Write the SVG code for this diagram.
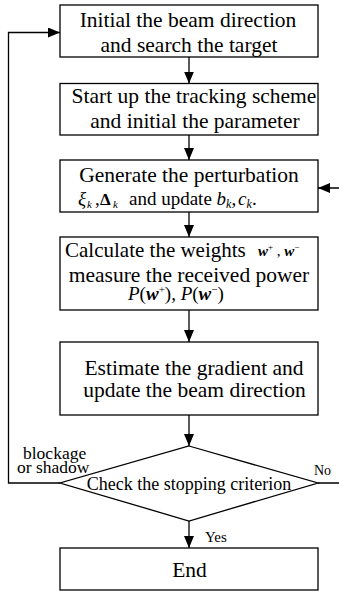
<svg xmlns="http://www.w3.org/2000/svg" width="339" height="592" viewBox="0 0 339 592">
<style>
text{font-family:Liberation Serif,Times New Roman,Times,Tinos,DejaVu Serif,Noto Serif,serif}
.box{fill:#fff;stroke:#000;stroke-width:1.3}
.ln{fill:none;stroke:#000;stroke-width:1.3}
.t{font-size:21.5px;text-anchor:middle}
.it{font-style:italic}
.bi{font-style:italic;font-weight:bold}
</style>
<defs>
<marker id="ah" viewBox="0 0 12 10" refX="12" refY="5" markerWidth="12" markerHeight="10" markerUnits="userSpaceOnUse" orient="auto">
<path d="M0,0 L12,5 L0,10 z" fill="#000"/>
</marker>
</defs>
<rect width="339" height="592" fill="#fff"/>
<g id="connectors">
<line class="ln" x1="189" y1="57" x2="189" y2="83.5" marker-end="url(#ah)"/>
<line class="ln" x1="189" y1="135" x2="189" y2="160" marker-end="url(#ah)"/>
<line class="ln" x1="189" y1="212" x2="189" y2="237" marker-end="url(#ah)"/>
<line class="ln" x1="189" y1="310" x2="189" y2="342" marker-end="url(#ah)"/>
<line class="ln" x1="189" y1="415" x2="189" y2="446" marker-end="url(#ah)"/>
<line class="ln" x1="189" y1="521" x2="189" y2="548" marker-end="url(#ah)"/>
<polyline class="ln" points="60,483 8.5,483 8.5,32.5 60,32.5" marker-end="url(#ah)"/>
<polyline class="ln" points="318,483 340,483 340,188 318,188" marker-end="url(#ah)"/>
<text x="23" y="459" font-size="17.5">blockage</text>
<text x="17" y="473" font-size="17.5">or shadow</text>
<text x="314" y="475" font-size="14">No</text>
<text x="205" y="542" font-size="15">Yes</text>
</g>
<g id="n1">
<rect class="box" x="60" y="5" width="258" height="52"/>
<text class="t" x="188" y="27">Initial the beam direction</text>
<text class="t" x="189" y="51.5">and search the target</text>
</g>
<g id="n2">
<rect class="box" x="60" y="83.5" width="258" height="51.5"/>
<text class="t" x="194" y="103">Start up the tracking scheme</text>
<text class="t" x="195" y="128">and initial the parameter</text>
</g>
<g id="n3">
<rect class="box" x="60" y="160" width="258" height="52"/>
<text class="t" x="189" y="181.5">Generate the perturbation</text>
<text y="205" font-size="19"><tspan class="it" x="78">ξ</tspan><tspan class="it" font-size="11" x="87" dy="3">k</tspan><tspan x="95" dy="-3">,</tspan><tspan font-weight="bold" font-size="17" x="100">Δ</tspan><tspan class="it" font-size="11" x="113" dy="3">k</tspan><tspan x="129" dy="-3">and update</tspan><tspan class="it" x="216.5">b</tspan><tspan class="it" font-size="12" x="226" dy="3">k</tspan><tspan x="231.5" dy="-3">,</tspan><tspan class="it" x="238">c</tspan><tspan class="it" font-size="12" x="246.5" dy="3">k</tspan><tspan x="252" dy="-3">.</tspan></text>
</g>
<g id="n4">
<rect class="box" x="60" y="237" width="258" height="73"/>
<text x="65" y="257" font-size="21">Calculate the weights</text>
<text x="258" y="256" font-size="15"><tspan class="bi">w</tspan><tspan font-size="9" dy="-6">+</tspan><tspan dy="6"> , </tspan><tspan class="bi">w</tspan><tspan font-size="9" dy="-6">−</tspan></text>
<text class="t" x="189" y="282">measure the received power</text>
<text x="128" y="300" font-size="19"><tspan class="it">P</tspan>(<tspan class="bi">w</tspan><tspan font-size="11" dy="-7">+</tspan><tspan dy="7">), </tspan><tspan class="it">P</tspan>(<tspan class="bi">w</tspan><tspan font-size="11" dy="-7">−</tspan><tspan dy="7">)</tspan></text>
</g>
<g id="n5">
<rect class="box" x="60" y="342" width="258" height="73"/>
<text class="t" x="194" y="375">Estimate the gradient and</text>
<text class="t" x="194.5" y="397">update the beam direction</text>
</g>
<g id="n6">
<polygon class="box" points="189,446 318,483 189,521 60,483"/>
<text x="189" y="490" font-size="18" text-anchor="middle">Check the stopping criterion</text>
</g>
<g id="n7">
<rect class="box" x="60" y="548" width="258" height="42"/>
<text class="t" x="189.5" y="577">End</text>
</g>
</svg>
